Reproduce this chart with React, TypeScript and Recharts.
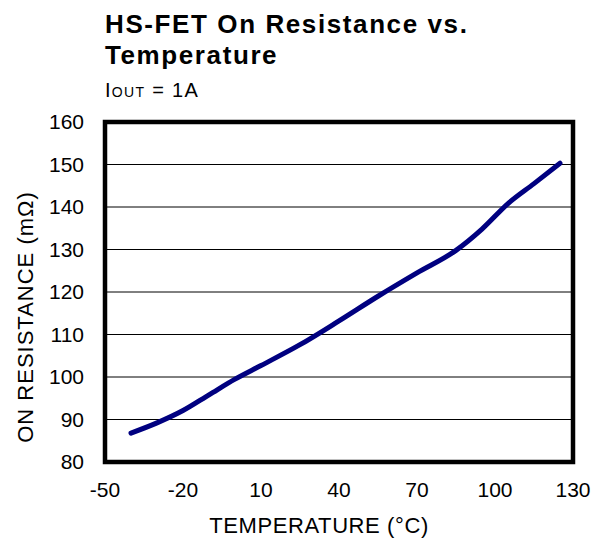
import { LineChart, Line, XAxis, YAxis, CartesianGrid, ReferenceArea } from "recharts";

// HS-FET on resistance (mΩ) at these temperatures (°C)
const temps = [-40, -30, -20, -10, 0, 10, 25, 40, 55, 70, 85, 95, 105, 115, 125];
const resistance = [86.8, 89.2, 92.1, 95.8, 99.5, 102.7, 107.6, 113.2, 119.0, 124.5, 129.8, 134.8, 140.8, 145.5, 150.3];

const xTicks = [-50, -20, 10, 40, 70, 100, 130];
const yTicks = [80, 90, 100, 110, 120, 130, 140, 150, 160];

const FONT = '"Liberation Sans", Arial, sans-serif';

const chartData = temps.map((t, i) => ({ temp: t, rds: resistance[i] }));

export default function App() {
  return (
    <div style={{ position: "absolute", left: 0, top: 0, width: 600, height: 539, background: "#fff", fontFamily: FONT }}>
      <LineChart width={600} height={539} data={chartData} margin={{ top: 122, right: 27, bottom: 27, left: 0 }}>
        <CartesianGrid vertical={false} stroke="#000" strokeWidth={1} />
        <XAxis
          dataKey="temp"
          type="number"
          domain={[-50, 130]}
          ticks={xTicks}
          height={50}
          axisLine={false}
          tickLine={false}
          tickSize={0}
          tickMargin={20}
          tick={{ fill: "#000", fontSize: 21, fontFamily: FONT }}
        />
        <YAxis
          type="number"
          domain={[80, 160]}
          ticks={yTicks}
          width={105}
          axisLine={false}
          tickLine={false}
          tickSize={0}
          tickMargin={21}
          tick={{ fill: "#000", fontSize: 21, fontFamily: FONT }}
        />
        <Line
          type="monotone"
          dataKey="rds"
          stroke="#000080"
          strokeWidth={5}
          strokeLinecap="round"
          dot={false}
          isAnimationActive={false}
        />
        <ReferenceArea x1={-50} x2={130} y1={80} y2={160} fill="none" stroke="#000" strokeWidth={4.5} ifOverflow="visible" />
      </LineChart>
      <svg width={600} height={539} style={{ position: "absolute", left: 0, top: 0, pointerEvents: "none" }}>
        <text x={105} y={33} fontSize={26} fontWeight="bold" letterSpacing={1.6} fontFamily={FONT} fill="#000">
          HS-FET On Resistance vs.
        </text>
        <text x={105} y={64} fontSize={26} fontWeight="bold" letterSpacing={1.6} fontFamily={FONT} fill="#000">
          Temperature
        </text>
        <text x={105} y={97} fontSize={20} letterSpacing={1.3} fontFamily={FONT} fill="#000">
          I<tspan fontSize={14}>OUT</tspan> = 1A
        </text>
        <text
          x={319}
          y={533}
          fontSize={22}
          letterSpacing={0.6}
          textAnchor="middle"
          fontFamily={FONT}
          fill="#000"
        >
          TEMPERATURE (°C)
        </text>
        <text
          transform="translate(33, 317) rotate(-90)"
          fontSize={22}
          letterSpacing={1}
          textAnchor="middle"
          fontFamily={FONT}
          fill="#000"
        >
          ON RESISTANCE (mΩ)
        </text>
      </svg>
    </div>
  );
}
